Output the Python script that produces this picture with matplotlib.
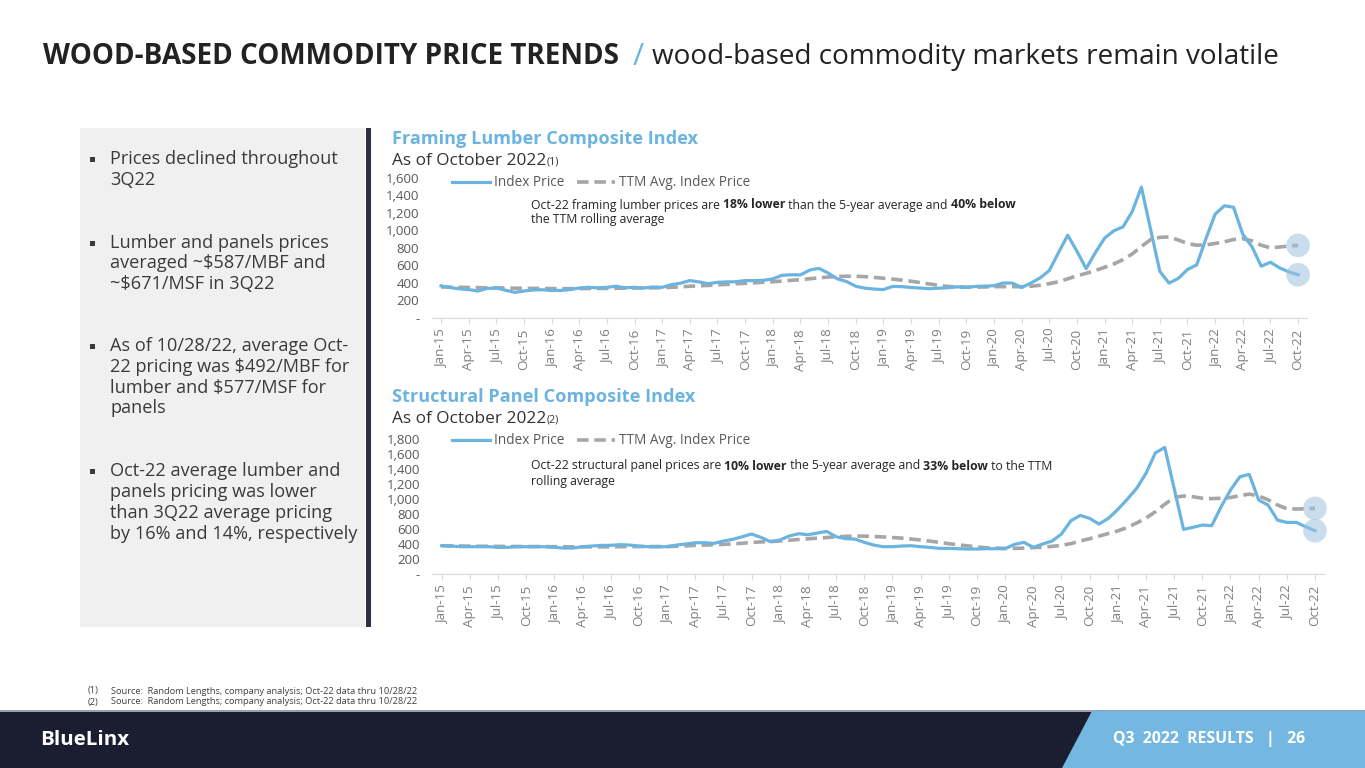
import matplotlib
matplotlib.use('Agg')
import matplotlib.pyplot as plt
import pandas as pd
from matplotlib.patches import Rectangle, Polygon
from matplotlib.lines import Line2D
from matplotlib.ticker import FixedLocator, FuncFormatter

# ---------------- data ----------------
months = pd.date_range('2015-01-01', periods=94, freq='MS')
month_labels = [d.strftime('%b-%y') for d in months]

lumber_index = [
    365, 345, 330, 322, 305, 335, 340, 315, 290, 305, 318, 320,
    312, 312, 322, 340, 348, 342, 348, 360, 342, 348, 340, 352,
    348, 378, 396, 425, 410, 390, 405, 410, 412, 425, 425, 428,
    445, 485, 492, 490, 545, 565, 512, 445, 415, 360, 338, 328,
    322, 358, 356, 346, 340, 332, 338, 343, 354, 346, 358, 362,
    366, 398, 396, 346, 396, 455, 540, 745, 945, 762, 562, 745,
    910, 995, 1040, 1215, 1495, 1010, 530, 396, 450, 552, 605, 905,
    1186, 1282, 1265, 955, 812, 590, 635, 570, 525, 492]
lumber_ttm = [
    352, 350, 348, 346, 344, 343, 342, 340, 338, 337, 336, 335,
    334, 333, 333, 333, 334, 335, 336, 337, 339, 340, 341, 342,
    344, 348, 354, 360, 365, 370, 376, 382, 388, 394, 400, 406,
    412, 420, 428, 436, 446, 456, 466, 472, 475, 474, 470, 462,
    452, 442, 430, 418, 402, 386, 370, 358, 352, 350, 350, 352,
    355, 356, 356, 355, 360, 372, 390, 412, 445, 480, 508, 540,
    577, 615, 665, 730, 815, 895, 920, 925, 890, 850, 830, 835,
    850, 870, 895, 905, 880, 830, 800, 810, 820, 828]
panel_index = [
    377, 373, 364, 364, 364, 364, 355, 355, 364, 364, 364, 364,
    355, 346, 346, 364, 373, 382, 382, 391, 386, 373, 364, 364,
    364, 386, 400, 417, 417, 408, 440, 462, 497, 533, 488, 431,
    453, 506, 537, 524, 546, 568, 497, 471, 466, 422, 386, 364,
    364, 373, 377, 364, 355, 342, 342, 337, 333, 333, 337, 337,
    337, 395, 422, 355, 400, 440, 533, 710, 781, 742, 666, 742,
    861, 995, 1141, 1341, 1616, 1687, 1141, 595, 622, 653, 644, 897,
    1119, 1297, 1328, 986, 919, 719, 688, 688, 631, 577]
panel_ttm = [
    377, 375, 373, 371, 370, 369, 368, 367, 367, 366, 366, 365,
    364, 363, 362, 362, 362, 362, 363, 364, 365, 366, 366, 366,
    366, 370, 375, 382, 386, 390, 395, 402, 410, 420, 428, 432,
    440, 450, 460, 470, 478, 486, 495, 502, 506, 505, 500, 494,
    486, 478, 466, 453, 438, 422, 404, 390, 375, 360, 350, 345,
    342, 342, 345, 352, 358, 368, 382, 405, 440, 470, 505, 540,
    575, 620, 680, 745, 830, 930, 1020, 1040, 1030, 1010, 1005, 1010,
    1020, 1045, 1065, 1040, 990, 920, 870, 866, 870, 875]

lumber_yticks = [0, 200, 400, 600, 800, 1000, 1200, 1400, 1600]
panel_yticks = [0, 200, 400, 600, 800, 1000, 1200, 1400, 1600, 1800]

bullets = [
    ["Prices declined throughout", "3Q22"],
    ["Lumber and panels prices", "averaged ~$587/MBF and", "~$671/MSF in 3Q22"],
    ["As of 10/28/22, average Oct-", "22 pricing was $492/MBF for",
     "lumber and $577/MSF for", "panels"],
    ["Oct-22 average lumber and", "panels pricing was lower",
     "than 3Q22 average pricing", "by 16% and 14%, respectively"],
]

# ---------------- style ----------------
W, H = 1365, 768
BLUE = '#6cb4e0'
GRAY_D = '#a6a6a6'
DARK = '#262626'
NAVY = '#1b1e31'
FONT = 'Open Sans'
plt.rcParams['font.family'] = [FONT, 'DejaVu Sans']

fig = plt.figure(figsize=(W / 100, H / 100), dpi=100)
renderer = fig.canvas.get_renderer()


def fx(x):
    return x / W


def fy(y):
    return 1 - y / H


def rect(x0, y0, x1, y1, **kw):
    fig.add_artist(Rectangle((fx(x0), fy(y1)), fx(x1 - x0), (y1 - y0) / H,
                             transform=fig.transFigure, **kw))


def measure(parts, size=10):
    tot = 0
    for s, w in parts:
        t = fig.text(0, 0, s, fontsize=size, fontweight=w)
        tot += t.get_window_extent(renderer=renderer).width
        t.remove()
    return tot


def size_for(parts, target, size=10):
    return size * target / measure(parts, size)


def rich(x, y, parts, size, color, va='center'):
    for s, w in parts:
        t = fig.text(fx(x), fy(y), s, fontsize=size, fontweight=w,
                     color=color, va=va, ha='left')
        bb = t.get_window_extent(renderer=renderer)
        x = bb.x1
    return x


# ---------------- title ----------------
s_t = size_for([("WOOD-BASED COMMODITY PRICE TRENDS", 'bold')], 574)
rich(43, 57, [("WOOD-BASED COMMODITY PRICE TRENDS", 'bold')], s_t, '#222222')
rich(633, 57, [("/", 'normal')], s_t * 1.1, BLUE)
s_t2 = size_for([("wood-based commodity markets remain volatile", 'normal')], 626)
rich(652, 57, [("wood-based commodity markets remain volatile", 'normal')], s_t2, '#222222')

# ---------------- left panel ----------------
rect(80, 128, 365, 627, facecolor='#f0f0f0', edgecolor='none')
rect(366, 128, 371, 627, facecolor='#2b3044', edgecolor='none')
s_b = 0.5 * (size_for([(bullets[0][0], 'normal')], 235)
             + size_for([(bullets[3][3], 'normal')], 239))
bullet_y = [[159, 180], [243, 263, 284], [346, 367, 388, 408], [471, 492, 513, 534]]
for lines, ys in zip(bullets, bullet_y):
    rect(90, ys[0] - 2.5, 95, ys[0] + 2.5, facecolor='#3a3a3a', edgecolor='none')
    for ln, yy in zip(lines, ys):
        fig.text(fx(110), fy(yy), ln, fontsize=s_b, color='#3a3a3a', va='center', ha='left')

# ---------------- charts ----------------
s_ct = size_for([("Framing Lumber Composite Index", 'bold')], 305)
s_as = size_for([("As of October 2022", 'normal')], 153)
s_ann = size_for([("Oct-22 framing lumber prices are ", 'normal'), ("18% lower", 'bold'),
                  (" than the 5-year average and ", 'normal'), ("40% below", 'bold')], 486)
s_leg = size_for([("TTM Avg. Index Price", 'normal')], 131)
s_xt = size_for([("Jan-15", 'normal')], 39)
s_yt = size_for([("1,600", 'normal')], 34)


def chart(title, note, ttl_y, left, width, bottom, top, ymax, yticks,
          idx, ttm, ann_lines, ann_y, leg_y):
    fig.text(fx(392), fy(ttl_y), title, fontsize=s_ct, fontweight='bold',
             color=BLUE, va='center', ha='left')
    t = fig.text(fx(392), fy(ttl_y + 26), "As of October 2022", fontsize=s_as,
                 color='#333333', va='baseline', ha='left')
    bb = t.get_window_extent(renderer=renderer)
    fig.text(fx(bb.x1 + 0.5), fy(ttl_y + 26), note, fontsize=s_as * 0.62,
             color='#333333', va='baseline', ha='left')

    ax = fig.add_axes([fx(left), fy(bottom), fx(width), (bottom - top) / H])
    x = list(range(len(idx)))
    ax.plot(x, idx, color=BLUE, lw=2.3, solid_joinstyle='round', clip_on=False, zorder=3)
    ax.plot(x, ttm, color=GRAY_D, lw=2.6, ls=(0, (3.2, 1.6)), clip_on=False, zorder=2)
    ax.scatter([x[-1], x[-1]], [idx[-1], ttm[-1]], s=290, color='#9fc2df',
               alpha=0.55, edgecolors='none', zorder=4, clip_on=False)
    ax.set_xlim(-1, len(idx))
    ax.set_ylim(0, ymax)
    for s in ['top', 'right', 'left']:
        ax.spines[s].set_visible(False)
    ax.spines['bottom'].set_color('#d9d9d9')
    ax.xaxis.set_major_locator(FixedLocator(x[::3]))
    ax.set_xticklabels(month_labels[::3], rotation=90, fontsize=s_xt, color='#7f7f7f')
    ax.tick_params(axis='x', length=4, color='#d9d9d9', pad=4)
    ax.yaxis.set_major_locator(FixedLocator(yticks))
    ax.yaxis.set_major_formatter(FuncFormatter(lambda v, p: '-' if v == 0 else f'{v:,.0f}'))
    ax.tick_params(axis='y', length=0, labelsize=s_yt, labelcolor='#595959', pad=9)
    ax.patch.set_alpha(0)

    handles = [Line2D([], [], color=BLUE, lw=2.3),
               Line2D([], [], color=GRAY_D, lw=2.6, ls=(0, (3.2, 1.6)))]
    fig.legend(handles, ['Index Price', 'TTM Avg. Index Price'], ncol=2,
               loc='center left', bbox_to_anchor=(fx(452), fy(leg_y)),
               bbox_transform=fig.transFigure, frameon=False, fontsize=s_leg,
               handlelength=38 / (s_leg * 100 / 72), handletextpad=0.3,
               columnspacing=0.9, borderpad=0, borderaxespad=0, labelcolor='#595959')

    for parts, yy in zip(ann_lines, ann_y):
        rich(531, yy, parts, s_ann, DARK)
    return ax


chart("Framing Lumber Composite Index", "(1)", 139, 431.8, 875.5, 317.7, 178.0,
      1600, lumber_yticks, lumber_index, lumber_ttm,
      [[("Oct-22 framing lumber prices are ", 'normal'), ("18% lower", 'bold'),
        (" than the 5-year average and ", 'normal'), ("40% below", 'bold')],
       [("the TTM rolling average", 'normal')]],
      [205, 220], 183)

chart("Structural Panel Composite Index", "(2)", 397, 432.3, 892.1, 574.0, 439.0,
      1800, panel_yticks, panel_index, panel_ttm,
      [[("Oct-22 structural panel prices are ", 'normal'), ("10% lower", 'bold'),
        (" the 5-year average and ", 'normal'), ("33% below", 'bold'),
        (" to the TTM", 'normal')],
       [("rolling average", 'normal')]],
      [466, 481], 441)

# ---------------- footnotes ----------------
s_fn = size_for([("Source:  Random Lengths, company analysis; Oct-22 data thru 10/28/22", 'normal')], 306)
for yy, n, txt in [(691, "(1)", "Source:  Random Lengths, company analysis; Oct-22 data thru 10/28/22"),
                   (702, "(2)", "Source:  Random Lengths; company analysis; Oct-22 data thru 10/28/22")]:
    fig.text(fx(88), fy(yy), n, fontsize=s_fn, color='#404040', va='center', ha='left')
    fig.text(fx(111), fy(yy), txt, fontsize=s_fn, color='#404040', va='center', ha='left')

# ---------------- footer ----------------
rect(0, 711, W, H, facecolor=NAVY, edgecolor='none')
rect(0, 710, W, 711.5, facecolor='#9aa0b0', edgecolor='none')
fig.add_artist(Polygon([(fx(1092), fy(711)), (fx(W), fy(711)), (fx(W), fy(H)), (fx(1062), fy(H))],
                       closed=True, transform=fig.transFigure, facecolor='#74b8e2', edgecolor='none'))
s_bl = size_for([("BlueLinx", 'bold')], 89)
fig.text(fx(40), fy(740), "BlueLinx", fontsize=s_bl, fontweight='bold', color='white',
         va='center', ha='left')
s_q = size_for([("Q3  2022  RESULTS   |   26", 'bold')], 192)
fig.text(fx(1113), fy(739), "Q3  2022  RESULTS   |   26", fontsize=s_q, fontweight='bold',
         color='white', va='center', ha='left')

fig.savefig('out.png', dpi=100)
